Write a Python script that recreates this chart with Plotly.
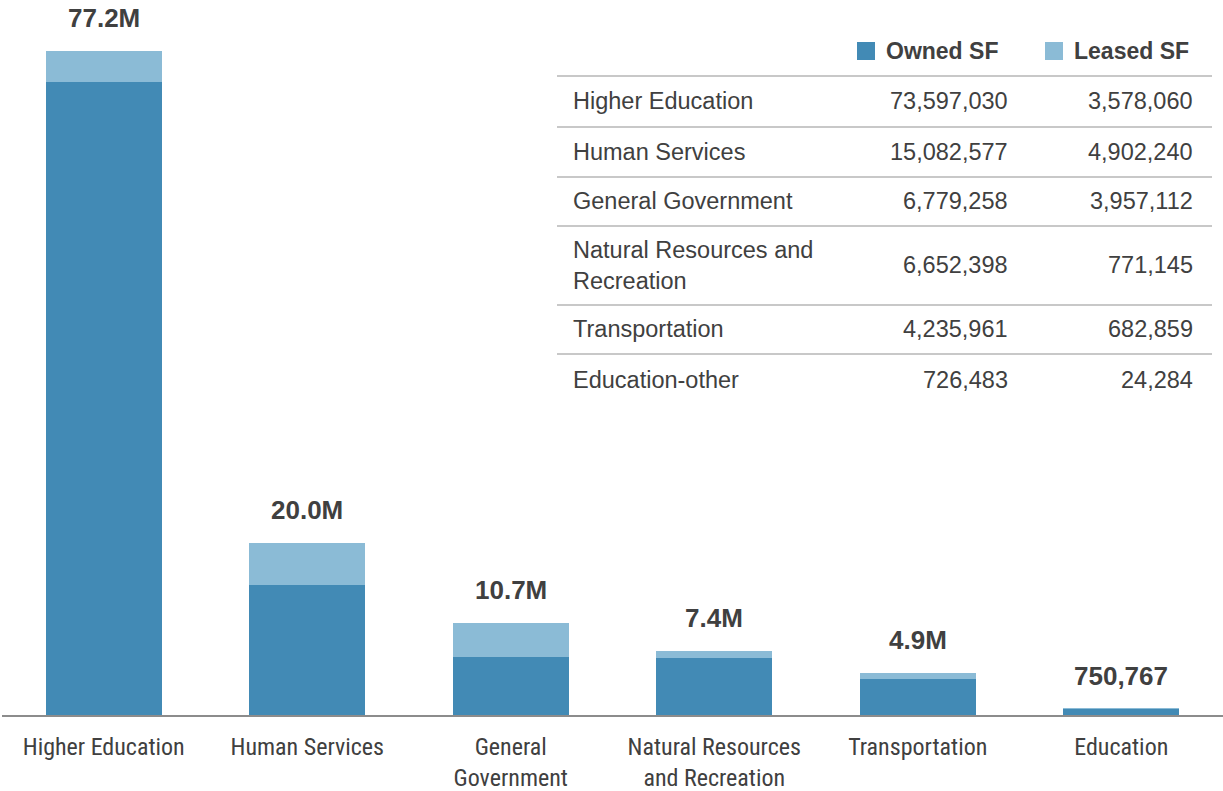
import plotly.graph_objects as go

categories = ["Higher Education", "Human Services", "General<br>Government",
              "Natural Resources<br>and Recreation", "Transportation", "Education"]
table_labels = ["Higher Education", "Human Services", "General Government",
                "Natural Resources and<br>Recreation", "Transportation", "Education-other"]
owned_sf = [73597030, 15082577, 6779258, 6652398, 4235961, 726483]
leased_sf = [3578060, 4902240, 3957112, 771145, 682859, 24284]
series_names = ["Owned SF", "Leased SF"]

OWNED_C = "#428AB5"
LEASED_C = "#8BBBD6"
TEXT_C = "#404040"
W, H = 1223, 791
ML, MR, MT, MB = 2, 0, 0, 76
PW, PH = W - ML - MR, H - MT - MB


def px(x):
    return (x - ML) / PW


def py(y):
    return (H - MB - y) / PH


def fmt_total(v):
    if v >= 1e6:
        return f"{v / 1e6:.1f}M"
    return f"{v:,.0f}"


fig = go.Figure()
fig.add_trace(go.Bar(x=categories, y=owned_sf, name=series_names[0],
                     marker=dict(color=OWNED_C, line=dict(width=0)), width=0.57))
fig.add_trace(go.Bar(x=categories, y=leased_sf, name=series_names[1],
                     marker=dict(color=LEASED_C, line=dict(width=0)), width=0.57))

totals = [o + l for o, l in zip(owned_sf, leased_sf)]
annotations = []
for c, t in zip(categories, totals):
    annotations.append(dict(x=c, y=t, xref="x", yref="y", text=f"<b>{fmt_total(t)}</b>",
                            showarrow=False, yanchor="middle", yshift=33,
                            font=dict(family="Liberation Sans, Arial", size=26, color=TEXT_C)))

# table inset
shapes = []
line_ys = [76, 127, 177, 226, 305, 354]
for ly in line_ys:
    shapes.append(dict(type="line", xref="paper", yref="paper", x0=px(557), x1=px(1212),
                       y0=py(ly), y1=py(ly), line=dict(color="#C8C8C8", width=2)))

row_ys = [101, 152, 201, 265, 329, 380]
tfont = dict(family="Liberation Sans, Arial", size=23.5, color=TEXT_C)
for lab, o, l, ry in zip(table_labels, owned_sf, leased_sf, row_ys):
    annotations.append(dict(x=px(571), y=py(ry), xref="paper", yref="paper", text=lab,
                            showarrow=False, xanchor="left", yanchor="middle", align="left",
                            font=tfont))
    annotations.append(dict(x=px(1010), y=py(ry), xref="paper", yref="paper", text=f"{o:,}",
                            showarrow=False, xanchor="right", yanchor="middle", font=tfont))
    annotations.append(dict(x=px(1195), y=py(ry), xref="paper", yref="paper", text=f"{l:,}",
                            showarrow=False, xanchor="right", yanchor="middle", font=tfont))

# header legend
hdr_y = 51
for name, col, sq_x, tx in [(series_names[0], OWNED_C, 857, 884), (series_names[1], LEASED_C, 1045, 1072)]:
    shapes.append(dict(type="rect", xref="paper", yref="paper", x0=px(sq_x), x1=px(sq_x + 18),
                       y0=py(hdr_y + 9), y1=py(hdr_y - 9), fillcolor=col, line=dict(width=0)))
    annotations.append(dict(x=px(tx), y=py(hdr_y), xref="paper", yref="paper", text=f"<b>{name}</b>",
                            showarrow=False, xanchor="left", yanchor="middle",
                            font=dict(family="Liberation Sans, Arial", size=23, color=TEXT_C)))

fig.update_layout(
    width=W, height=H, barmode="stack", showlegend=False,
    margin=dict(l=ML, r=MR, t=MT, b=MB, pad=0, autoexpand=False),
    paper_bgcolor="white", plot_bgcolor="white",
    annotations=annotations, shapes=shapes, hovermode=False,
    xaxis=dict(showgrid=False, showline=True, linecolor="#8C8C8C", linewidth=2, ticks="",
               automargin=False,
               tickfont=dict(family="Roboto Condensed, Liberation Sans Narrow, Arial Narrow, DejaVu Sans Condensed",
                             size=24, color=TEXT_C),
               ticklabelstandoff=9, fixedrange=True),
    yaxis=dict(visible=False, range=[0, 83.13e6], fixedrange=True, automargin=False),
)

fig.write_html("out.html", config={"displayModeBar": False},
               post_script="document.body.style.margin='0';document.body.style.overflow='hidden';")
